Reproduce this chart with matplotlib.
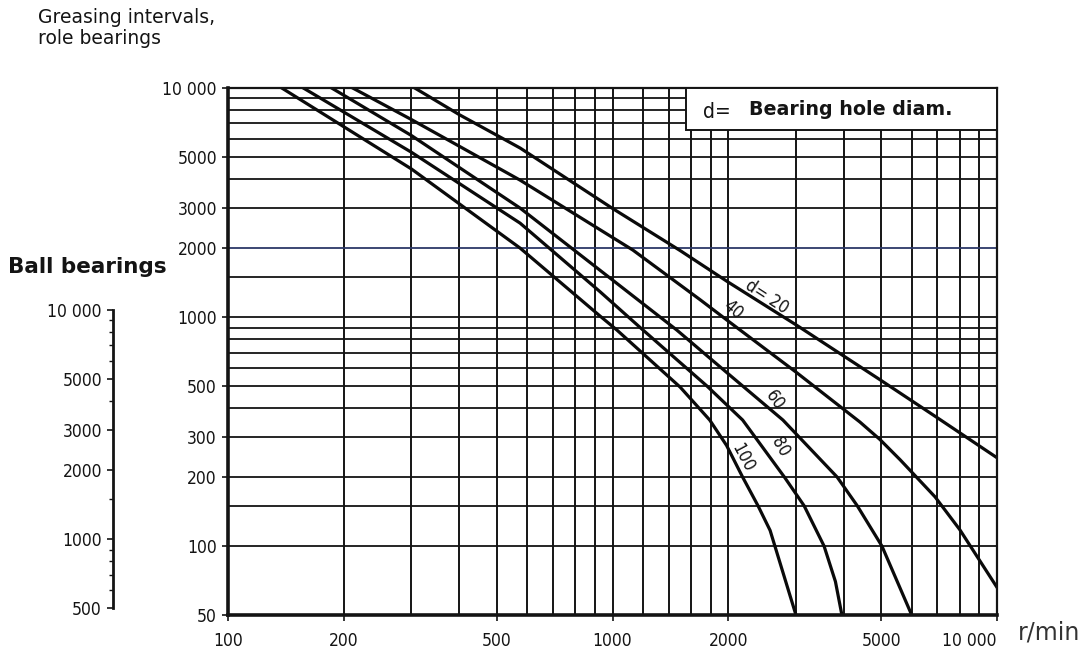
import matplotlib
matplotlib.use('Agg')
import matplotlib.pyplot as plt
from matplotlib.patches import Rectangle

# greasing interval curves: speed [r/min] -> hours
rpm_d20 = [306, 400, 575, 1000, 1500, 2000, 3000, 5000, 7000, 10000]
h_d20 = [10000, 7640, 5470, 2980, 1950, 1420, 925, 528, 363, 243]

rpm_d40 = [211, 300, 575, 930, 1130, 1690, 2000, 3000, 4400, 4960, 5600, 6900, 8000, 10000]
h_d40 = [10000, 7280, 3960, 2400, 1960, 1190, 960, 575, 348, 292, 238, 164, 118, 66]

rpm_d60 = [186, 300, 575, 928, 1470, 2000, 2775, 3840, 4330, 5020, 6000]
h_d60 = [10000, 6200, 2990, 1600, 877, 565, 355, 200, 150, 100, 50]

rpm_d80 = [157, 300, 575, 928, 1180, 1760, 2180, 2800, 3150, 3550, 3800, 3950]
h_d80 = [10000, 5240, 2570, 1290, 900, 500, 355, 200, 150, 100, 70, 50]

rpm_d100 = [138, 300, 575, 928, 1027, 1500, 1790, 1980, 2180, 2390, 2570, 3000]
h_d100 = [10000, 4430, 2000, 1010, 877, 494, 355, 275, 200, 150, 117, 50]

curves = [(rpm_d20, h_d20), (rpm_d40, h_d40), (rpm_d60, h_d60),
          (rpm_d80, h_d80), (rpm_d100, h_d100)]

# grid of the printed chart
grid_rpm = [100, 200, 300, 400, 500, 600, 700, 800, 900, 1000,
            1200, 1400, 1600, 1800, 2000, 3000, 4000, 5000, 6000,
            7000, 8000, 9000, 10000]
grid_h = [50, 100, 150, 200, 300, 400, 500, 600, 700, 800, 900, 1000,
          1500, 2000, 3000, 4000, 5000, 6000, 7000, 8000, 9000, 10000]

x_ticks = [100, 200, 500, 1000, 2000, 5000, 10000]
x_labels = ['100', '200', '500', '1000', '2000', '5000', '10 000']
y_ticks = [50, 100, 200, 300, 500, 1000, 2000, 3000, 5000, 10000]
y_labels = ['50', '100', '200', '300', '500', '1000', '2000', '3000', '5000', '10 000']

# ball bearing scale on the left
ball_ticks = [500, 1000, 2000, 3000, 5000, 10000]
ball_labels = ['500', '1000', '2000', '3000', '5000', '10 000']
ball_minor = [600, 700, 800, 900, 1500, 4000, 6000, 7000, 8000, 9000]

num_font = dict(family='DejaVu Sans', stretch='condensed', size=12.5)
ink = '#141414'

fig = plt.figure(figsize=(10.9, 6.51), dpi=100)
ax = fig.add_axes([228 / 1090, 1 - 615 / 651, 769 / 1090, 527 / 651])
ax.set_xscale('log')
ax.set_yscale('log')
ax.set_xlim(100, 10000)
ax.set_ylim(50, 10000)

for v in grid_rpm:
    ax.axvline(v, color=ink, lw=1.4, zorder=1)
for v in grid_h:
    c = '#2c3868' if v == 2000 else ink
    ax.axhline(v, color=c, lw=1.3, zorder=1)

for rpm, h in curves:
    ax.plot(rpm, h, color='#0a0a0a', lw=2.3, solid_joinstyle='round', zorder=3)

ax.minorticks_off()
ax.set_xticks(x_ticks)
ax.set_xticklabels(x_labels, fontdict=num_font)
ax.set_yticks(y_ticks)
ax.set_yticklabels(y_labels, fontdict=num_font)
ax.tick_params(axis='both', length=4, width=1.2, color=ink, pad=4, labelcolor=ink)
ax.tick_params(axis='x', pad=8)
ax.get_xticklabels()[-1].set_horizontalalignment('right')

for side in ['left', 'bottom']:
    ax.spines[side].set_linewidth(2.6)
for side in ['top', 'right']:
    ax.spines[side].set_linewidth(1.6)
for s in ax.spines.values():
    s.set_color(ink)
    s.set_zorder(4)

# legend box
ax.add_patch(Rectangle((0.5956, 0.9203), 0.4044, 0.0797, transform=ax.transAxes,
                       facecolor='white', edgecolor=ink, lw=1.4, zorder=5))
ax.text(0.618, 0.955, 'd=', transform=ax.transAxes, ha='left', va='center',
        family='DejaVu Sans', stretch='condensed', size=15, color=ink, zorder=6)
ax.text(0.678, 0.960, 'Bearing hole diam.', transform=ax.transAxes, ha='left',
        va='center', family='DejaVu Sans', weight='bold', size=13.7, color=ink, zorder=6)

# curve labels
lab = dict(family='DejaVu Sans', stretch='condensed', size=12.5, color=ink,
           ha='center', va='center', zorder=6)
ax.text(2520, 1220, 'd= 20', rotation=-33, **lab)
ax.text(2057, 1075, '40', rotation=-41, **lab)
ax.text(2647, 434, '60', rotation=-55, **lab)
ax.text(2727, 270, '80', rotation=-60, **lab)
ax.text(2185, 242, '100', rotation=-62, **lab)

# ball bearings scale
bx = fig.add_axes([113 / 1090, 1 - 608 / 651, 0.001, 298 / 651])
bx.set_yscale('log')
bx.set_ylim(500, 10000)
bx.set_xticks([])
for side in ['top', 'right', 'bottom']:
    bx.spines[side].set_visible(False)
bx.spines['left'].set_linewidth(2.0)
bx.spines['left'].set_color(ink)
bx.set_yticks(ball_ticks)
bx.set_yticklabels(ball_labels, fontdict=num_font)
bx.set_yticks(ball_minor, minor=True)
bx.yaxis.set_minor_formatter(plt.NullFormatter())
bx.tick_params(axis='y', which='major', length=4, width=1.2, color=ink, pad=4, labelcolor=ink)
bx.tick_params(axis='y', which='minor', length=3, width=1.0, color=ink)
bx.patch.set_visible(False)

fig.text(38 / 1090, 1 - 28 / 651, 'Greasing intervals,\nrole bearings', ha='left', va='center',
         family='DejaVu Sans', size=13.5, color=ink, linespacing=1.1)
fig.text(8 / 1090, 1 - 267 / 651, 'Ball bearings', ha='left', va='center',
         family='DejaVu Sans', weight='bold', size=15.5, color=ink)
fig.text(1018 / 1090, 1 - 632 / 651, 'r/min', ha='left', va='center',
         family='DejaVu Sans', size=17, color='#333333')

fig.savefig('out.png', dpi=100, facecolor='white')
